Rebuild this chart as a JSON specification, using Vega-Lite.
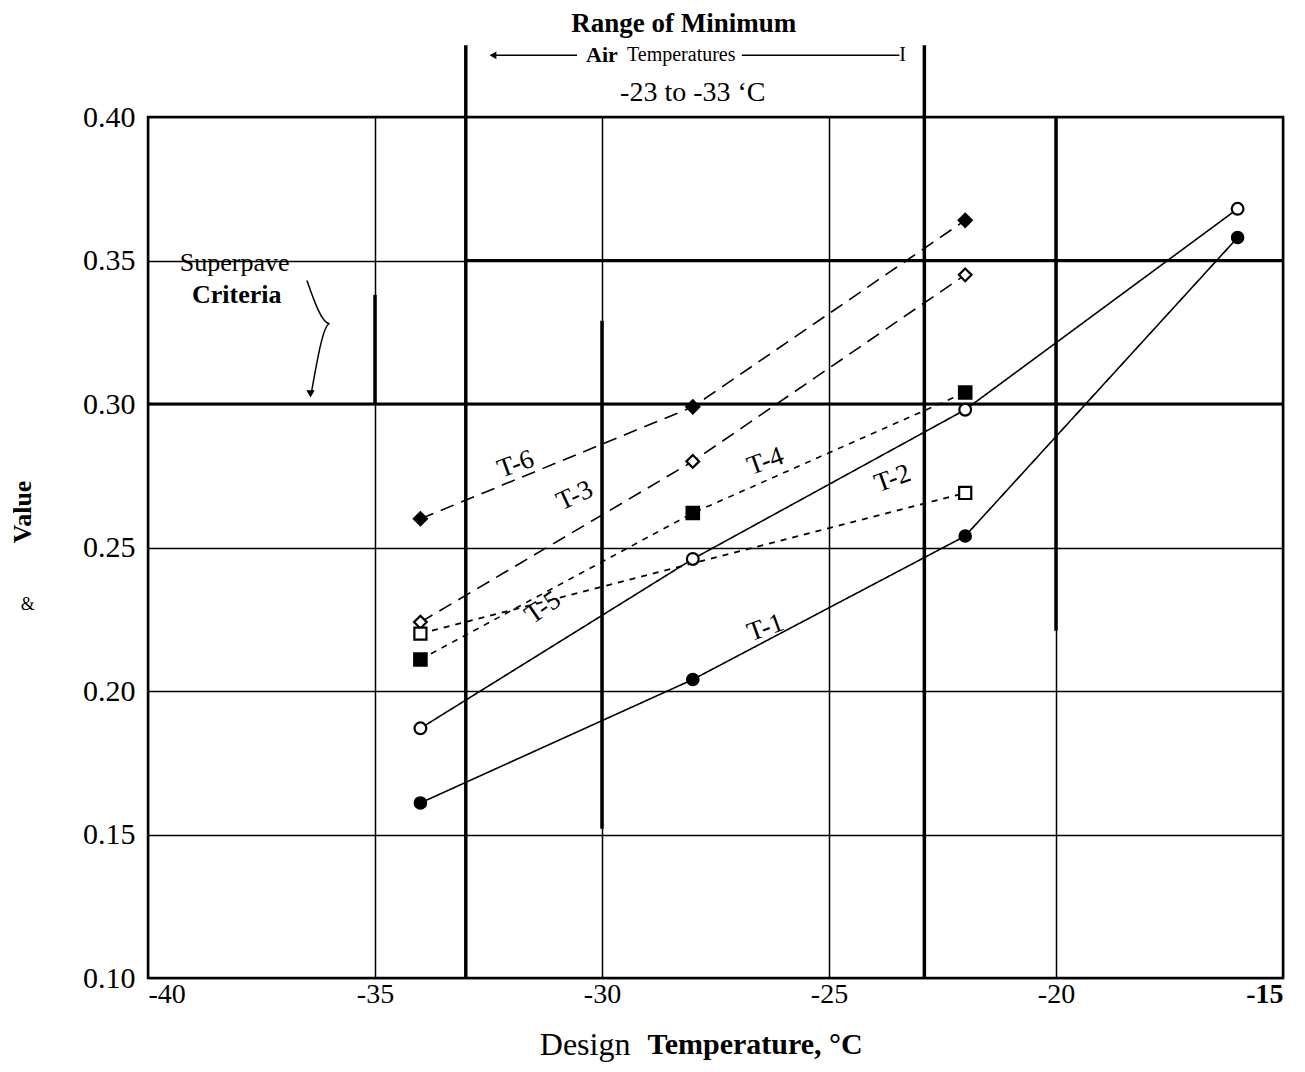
{
  "$schema": "https://vega.github.io/schema/vega-lite/v6.json",
  "width": 1135,
  "height": 861,
  "autosize": "none",
  "padding": {"left": 148, "top": 117, "right": 22, "bottom": 94},
  "background": "white",
  "config": {
    "view": {"stroke": "black", "strokeWidth": 2.5},
    "font": "Liberation Serif",
    "axis": {"labelFont": "Liberation Serif", "titleFont": "Liberation Serif", "labelColor": "black", "titleColor": "black"}
  },
  "datasets": {
    "points": [
      {"series": "T-6", "temp": -34, "value": 0.260},
      {"series": "T-6", "temp": -28, "value": 0.299},
      {"series": "T-6", "temp": -22, "value": 0.364},
      {"series": "T-3", "temp": -34, "value": 0.224},
      {"series": "T-3", "temp": -28, "value": 0.280},
      {"series": "T-3", "temp": -22, "value": 0.345},
      {"series": "T-4", "temp": -34, "value": 0.211},
      {"series": "T-4", "temp": -28, "value": 0.262},
      {"series": "T-4", "temp": -22, "value": 0.304},
      {"series": "T-2", "temp": -34, "value": 0.220},
      {"series": "T-2", "temp": -22, "value": 0.269},
      {"series": "T-5", "temp": -34, "value": 0.187},
      {"series": "T-5", "temp": -28, "value": 0.246},
      {"series": "T-5", "temp": -22, "value": 0.298},
      {"series": "T-5", "temp": -16, "value": 0.368},
      {"series": "T-1", "temp": -34, "value": 0.161},
      {"series": "T-1", "temp": -28, "value": 0.204},
      {"series": "T-1", "temp": -22, "value": 0.254},
      {"series": "T-1", "temp": -16, "value": 0.358}
    ]
  },
  "layer": [
    {
      "data": {"values": [{"x": -33, "y1": 0.10, "y2": 0.425}, {"x": -22.9, "y1": 0.10, "y2": 0.425}]},
      "mark": {"type": "rule", "color": "black", "strokeWidth": 3.5},
      "encoding": {"x": {"field": "x", "type": "quantitative"}, "y": {"field": "y1", "type": "quantitative"}, "y2": {"field": "y2"}}
    },
    {
      "data": {"values": [{"x": -30, "y1": 0.152, "y2": 0.329}, {"x": -20, "y1": 0.221, "y2": 0.40}, {"x": -35, "y1": 0.30, "y2": 0.338}]},
      "mark": {"type": "rule", "color": "black", "strokeWidth": 3.5},
      "encoding": {"x": {"field": "x", "type": "quantitative"}, "y": {"field": "y1", "type": "quantitative"}, "y2": {"field": "y2"}}
    },
    {
      "data": {"values": [{"y": 0.30, "x1": -33, "x2": -15}, {"y": 0.35, "x1": -33, "x2": -15}, {"y": 0.30, "x1": -40, "x2": -33}]},
      "mark": {"type": "rule", "color": "black", "strokeWidth": 3},
      "encoding": {"y": {"field": "y", "type": "quantitative"}, "x": {"field": "x1", "type": "quantitative"}, "x2": {"field": "x2"}}
    },
    {
      "data": {"name": "points"},
      "mark": {"type": "line", "color": "black", "strokeWidth": 1.6},
      "encoding": {
        "x": {
          "field": "temp", "type": "quantitative",
          "scale": {"domain": [-40, -15], "nice": false, "zero": false},
          "axis": {"values": [-40, -35, -30, -25, -20, -15], "labelExpr": "replace(datum.label, '−', '-')", "labelFontWeight": {"condition": {"test": "datum.value == -15", "value": "bold"}, "value": "normal"}, "ticks": false, "domain": false, "labelFontSize": 28, "labelPadding": 2, "grid": true, "gridColor": "black", "gridWidth": 1.5, "gridOpacity": 1, "title": null}
        },
        "y": {
          "field": "value", "type": "quantitative",
          "scale": {"domain": [0.10, 0.40], "nice": false, "zero": false},
          "axis": {"values": [0.10, 0.15, 0.20, 0.25, 0.30, 0.35, 0.40], "format": ".2f", "ticks": false, "domain": false, "labelFontSize": 30, "labelPadding": 13, "grid": true, "gridColor": "black", "gridWidth": 1.5, "gridOpacity": 1, "title": null}
        },
        "detail": {"field": "series"},
        "strokeDash": {
          "field": "series", "type": "nominal",
          "scale": {"domain": ["T-6", "T-3", "T-4", "T-2", "T-5", "T-1"], "range": [[14, 8], [14, 8], [6, 6], [6, 6], [1, 0], [1, 0]]},
          "legend": null
        }
      }
    },
    {
      "data": {"name": "points"},
      "mark": {"type": "point", "stroke": "black", "strokeWidth": 2.2, "opacity": 1, "fillOpacity": 1},
      "encoding": {
        "x": {"field": "temp", "type": "quantitative"},
        "y": {"field": "value", "type": "quantitative"},
        "shape": {
          "field": "series", "type": "nominal",
          "scale": {"domain": ["T-6", "T-3", "T-4", "T-2", "T-5", "T-1"], "range": ["diamond", "diamond", "square", "square", "circle", "circle"]},
          "legend": null
        },
        "fill": {
          "field": "series", "type": "nominal",
          "scale": {"domain": ["T-6", "T-3", "T-4", "T-2", "T-5", "T-1"], "range": ["black", "white", "black", "white", "white", "black"]},
          "legend": null
        },
        "size": {
          "field": "series", "type": "nominal",
          "scale": {"domain": ["T-6", "T-3", "T-4", "T-2", "T-5", "T-1"], "range": [170, 130, 80, 70, 170, 200]},
          "legend": null
        }
      }
    },
    {
      "data": {"values": [
        {"label": "T-6", "temp": -31.9, "value": 0.279},
        {"label": "T-4", "temp": -26.4, "value": 0.280},
        {"label": "T-2", "temp": -23.6, "value": 0.274},
        {"label": "T-1", "temp": -26.4, "value": 0.222}
      ]},
      "mark": {"type": "text", "fontSize": 27, "angle": 340, "font": "Liberation Serif", "color": "black"},
      "encoding": {"x": {"field": "temp", "type": "quantitative"}, "y": {"field": "value", "type": "quantitative"}, "text": {"field": "label"}}
    },
    {
      "data": {"values": [{"label": "T-3", "temp": -30.6, "value": 0.268}]},
      "mark": {"type": "text", "fontSize": 27, "angle": 335, "font": "Liberation Serif", "color": "black"},
      "encoding": {"x": {"field": "temp", "type": "quantitative"}, "y": {"field": "value", "type": "quantitative"}, "text": {"field": "label"}}
    },
    {
      "data": {"values": [{"label": "T-5", "temp": -31.3, "value": 0.229}]},
      "mark": {"type": "text", "fontSize": 27, "angle": 325, "font": "Liberation Serif", "color": "black"},
      "encoding": {"x": {"field": "temp", "type": "quantitative"}, "y": {"field": "value", "type": "quantitative"}, "text": {"field": "label"}}
    },
    {
      "data": {"values": [{"t": "Superpave", "temp": -39.3, "value": 0.349}]},
      "mark": {"type": "text", "fontSize": 26, "align": "left", "font": "Liberation Serif", "color": "black"},
      "encoding": {"x": {"field": "temp", "type": "quantitative"}, "y": {"field": "value", "type": "quantitative"}, "text": {"field": "t"}}
    },
    {
      "data": {"values": [{"t": "Criteria", "temp": -39.03, "value": 0.338}]},
      "mark": {"type": "text", "fontSize": 26, "fontWeight": "bold", "align": "left", "font": "Liberation Serif", "color": "black"},
      "encoding": {"x": {"field": "temp", "type": "quantitative"}, "y": {"field": "value", "type": "quantitative"}, "text": {"field": "t"}}
    },
    {
      "data": {"values": [
        {"temp": -36.5, "value": 0.343, "o": 1},
        {"temp": -36.0, "value": 0.328, "o": 2},
        {"temp": -36.4, "value": 0.304, "o": 3}
      ]},
      "mark": {"type": "line", "color": "black", "strokeWidth": 1.5, "interpolate": "monotone"},
      "encoding": {"x": {"field": "temp", "type": "quantitative"}, "y": {"field": "value", "type": "quantitative"}, "order": {"field": "o", "type": "quantitative"}}
    },
    {
      "data": {"values": [{"temp": -36.42, "value": 0.3035}]},
      "mark": {"type": "point", "shape": "triangle-down", "filled": true, "color": "black", "size": 70, "opacity": 1},
      "encoding": {"x": {"field": "temp", "type": "quantitative"}, "y": {"field": "value", "type": "quantitative"}}
    },
    {
      "data": {"values": [{"t": "Range of Minimum", "temp": -28.2, "value": 0.4325}]},
      "mark": {"type": "text", "fontSize": 27, "fontWeight": "bold", "font": "Liberation Serif", "color": "black"},
      "encoding": {"x": {"field": "temp", "type": "quantitative"}, "y": {"field": "value", "type": "quantitative"}, "text": {"field": "t"}}
    },
    {
      "data": {"values": [{"t": "Air", "temp": -30.35, "value": 0.4215}]},
      "mark": {"type": "text", "fontSize": 22, "fontWeight": "bold", "align": "left", "font": "Liberation Serif", "color": "black"},
      "encoding": {"x": {"field": "temp", "type": "quantitative"}, "y": {"field": "value", "type": "quantitative"}, "text": {"field": "t"}}
    },
    {
      "data": {"values": [
        {"t": "Temperatures", "temp": -29.45, "value": 0.4215},
        {"t": "I", "temp": -23.45, "value": 0.4215}
      ]},
      "mark": {"type": "text", "fontSize": 20, "align": "left", "font": "Liberation Serif", "color": "black"},
      "encoding": {"x": {"field": "temp", "type": "quantitative"}, "y": {"field": "value", "type": "quantitative"}, "text": {"field": "t"}}
    },
    {
      "data": {"values": [{"t": "-23 to -33 ‘C", "temp": -28.0, "value": 0.4085}]},
      "mark": {"type": "text", "fontSize": 28, "font": "Liberation Serif", "color": "black"},
      "encoding": {"x": {"field": "temp", "type": "quantitative"}, "y": {"field": "value", "type": "quantitative"}, "text": {"field": "t"}}
    },
    {
      "data": {"values": [
        {"x1": -32.45, "x2": -30.55, "y": 0.4215},
        {"x1": -26.92, "x2": -23.45, "y": 0.4215}
      ]},
      "mark": {"type": "rule", "color": "black", "strokeWidth": 1.5},
      "encoding": {"x": {"field": "x1", "type": "quantitative"}, "x2": {"field": "x2"}, "y": {"field": "y", "type": "quantitative"}}
    },
    {
      "data": {"values": [{"temp": -32.4, "value": 0.4215}]},
      "mark": {"type": "point", "shape": "triangle-left", "filled": true, "color": "black", "size": 60, "opacity": 1},
      "encoding": {"x": {"field": "temp", "type": "quantitative"}, "y": {"field": "value", "type": "quantitative"}}
    },
    {
      "data": {"values": [{"t": "Value", "temp": -42.75, "value": 0.2624}]},
      "mark": {"type": "text", "fontSize": 26, "fontWeight": "bold", "angle": 270, "font": "Liberation Serif", "color": "black"},
      "encoding": {"x": {"field": "temp", "type": "quantitative"}, "y": {"field": "value", "type": "quantitative"}, "text": {"field": "t"}}
    },
    {
      "data": {"values": [{"t": "&", "temp": -42.65, "value": 0.23}]},
      "mark": {"type": "text", "fontSize": 18, "font": "Liberation Serif", "color": "black"},
      "encoding": {"x": {"field": "temp", "type": "quantitative"}, "y": {"field": "value", "type": "quantitative"}, "text": {"field": "t"}}
    },
    {
      "data": {"values": [{"t": "Design", "temp": -31.37, "value": 0.0767}]},
      "mark": {"type": "text", "fontSize": 32, "align": "left", "font": "Liberation Serif", "color": "black"},
      "encoding": {"x": {"field": "temp", "type": "quantitative"}, "y": {"field": "value", "type": "quantitative"}, "text": {"field": "t"}}
    },
    {
      "data": {"values": [{"t": "Temperature, °C", "temp": -29.0, "value": 0.0767}]},
      "mark": {"type": "text", "fontSize": 30, "fontWeight": "bold", "align": "left", "font": "Liberation Serif", "color": "black"},
      "encoding": {"x": {"field": "temp", "type": "quantitative"}, "y": {"field": "value", "type": "quantitative"}, "text": {"field": "t"}}
    }
  ]
}
